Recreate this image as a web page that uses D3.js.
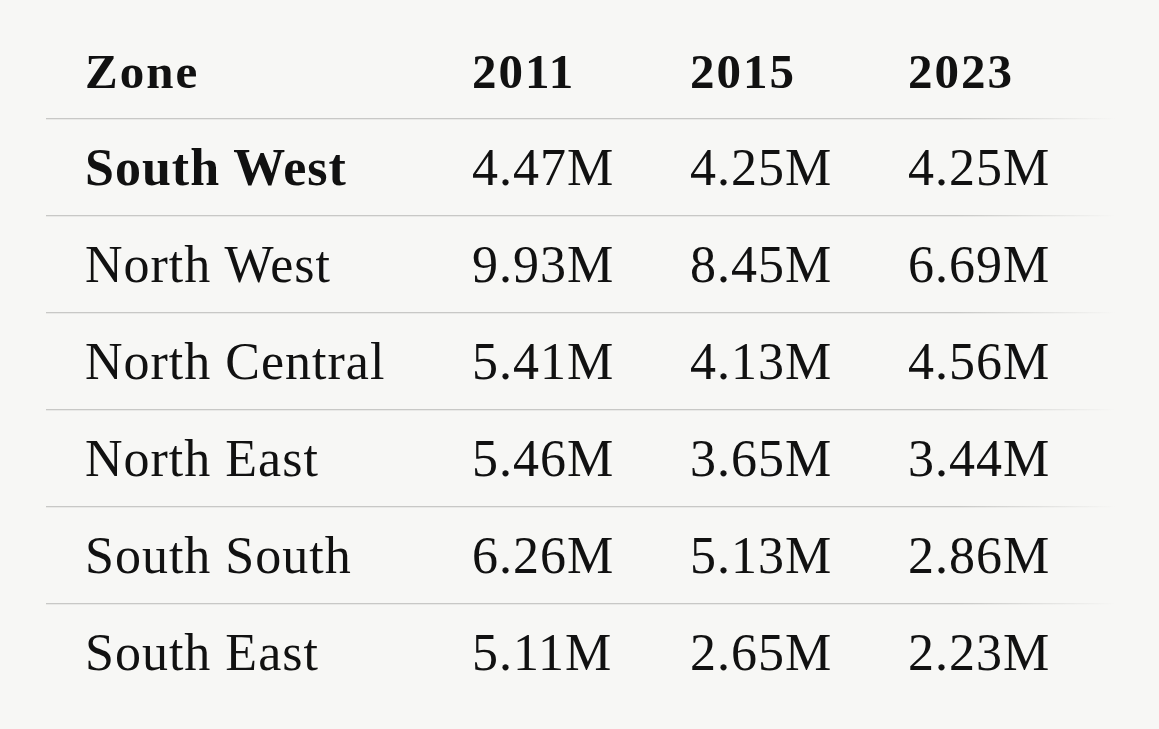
<!DOCTYPE html>
<html><head><meta charset="utf-8">
<script src="https://cdn.jsdelivr.net/npm/d3@7"></script>
<style>body{margin:0;background:#f7f7f5;}</style>
</head><body><div id="chart"></div>
<script>
// table data
var columns = ["Zone", "2011", "2015", "2023"];
var zones = ["South West", "North West", "North Central", "North East", "South South", "South East"];
var v2011 = ["4.47M", "9.93M", "5.41M", "5.46M", "6.26M", "5.11M"];
var v2015 = ["4.25M", "8.45M", "4.13M", "3.65M", "5.13M", "2.65M"];
var v2023 = ["4.25M", "6.69M", "4.56M", "3.44M", "2.86M", "2.23M"];

var svgWidth = 1159, svgHeight = 729;
var svg = d3.select("#chart").append("svg")
  .attr("width", svgWidth).attr("height", svgHeight);
svg.append("rect").attr("width", svgWidth).attr("height", svgHeight).attr("fill", "#f7f7f5");

var font = "'Liberation Serif', 'DejaVu Serif', serif";
var colX = d3.scaleOrdinal().domain(columns).range([85, 472, 690, 908]);
var rowY = d3.scaleBand().domain(zones).range([118, 700]);

var grad = svg.append("defs").append("linearGradient").attr("id", "fade");
grad.append("stop").attr("offset", "0%").attr("stop-color", "#c8c8c6");
grad.append("stop").attr("offset", "85%").attr("stop-color", "#c8c8c6");
grad.append("stop").attr("offset", "100%").attr("stop-color", "#f7f7f5");

// header
svg.selectAll("text.head").data(columns).enter().append("text")
  .attr("class", "head")
  .attr("x", d => colX(d)).attr("y", 88)
  .style("font-family", font).style("font-size", "49px").style("font-weight", "bold")
  .style("letter-spacing", "2px")
  .style("fill", "#111").text(d => d);

// separators
svg.selectAll("rect.sep").data(zones).enter().append("rect")
  .attr("x", 46).attr("y", d => rowY(d)).attr("width", 1070).attr("height", 1.3)
  .attr("fill", "url(#fade)");

// rows
zones.forEach(function (z, i) {
  var cells = [z, v2011[i], v2015[i], v2023[i]];
  svg.selectAll(null).data(cells).enter().append("text")
    .attr("x", (d, j) => colX(columns[j]))
    .attr("y", rowY(z) + 67)
    .style("font-family", font).style("font-size", "52px")
    .style("letter-spacing", "1px")
    .style("font-weight", (d, j) => (i === 0 && j === 0) ? "bold" : "normal")
    .style("fill", "#111").text(d => d);
});
</script></body></html>
